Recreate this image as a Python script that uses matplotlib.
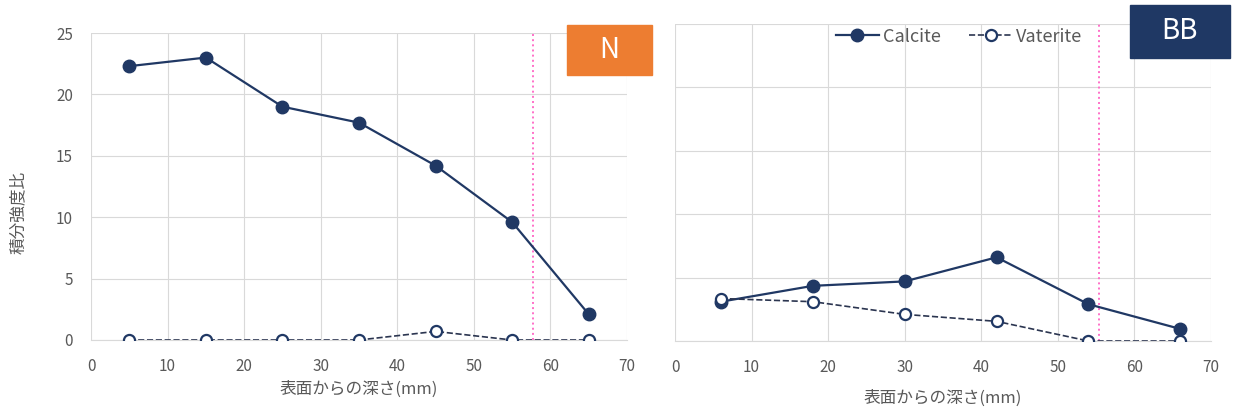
import matplotlib
matplotlib.use("Agg")
import matplotlib.pyplot as plt
from matplotlib.patches import Rectangle

plt.rcParams["font.family"] = ["Noto Sans CJK JP", "DejaVu Sans"]

# ---- データ ----
depth_n = [5, 15, 25, 35, 45, 55, 65]
calcite_n = [22.3, 23.0, 19.0, 17.7, 14.2, 9.6, 2.1]
vaterite_n = [0.0, 0.0, 0.0, 0.0, 0.7, 0.0, 0.0]
line_n = 57.7

depth_bb = [6, 18, 30, 42, 54, 66]
calcite_bb = [3.1, 4.35, 4.7, 6.6, 2.9, 0.95]
vaterite_bb = [3.35, 3.1, 2.1, 1.55, 0.0, 0.0]
line_bb = 55.4

xticks = [0, 10, 20, 30, 40, 50, 60, 70]
yticks = [0, 5, 10, 15, 20, 25]

NAVY = "#203864"
GRID = "#D9D9D9"
TXT = "#595959"
PINK = "#FF6FC8"

W, H = 1234, 415
fig = plt.figure(figsize=(W / 100, H / 100), dpi=100)

def px_axes(x0, y0, x1, y1):
    return fig.add_axes([x0 / W, 1 - y1 / H, (x1 - x0) / W, (y1 - y0) / H])

axL = px_axes(91, 33, 627, 340)
axR = px_axes(675, 24, 1211, 341)

for ax, x, c, v, vl in [(axL, depth_n, calcite_n, vaterite_n, line_n),
                        (axR, depth_bb, calcite_bb, vaterite_bb, line_bb)]:
    ax.plot(x, c, "-o", color=NAVY, lw=1.6, ms=9, mfc=NAVY, mec=NAVY,
            label="Calcite", zorder=3)
    ax.plot(x, v, "--o", color="#2b3550", lw=1.2, ms=8, mfc="white", mec=NAVY,
            mew=1.6, label="Vaterite", zorder=3)
    ax.axvline(vl, color=PINK, ls=":", lw=1.4, zorder=2)
    ax.set_xlim(0, 70)
    ax.set_ylim(0, 25)
    ax.set_xticks(xticks)
    ax.set_yticks(yticks)
    ax.grid(True, color=GRID, lw=0.8)
    ax.set_axisbelow(True)
    for s in ["top", "right", "left"]:
        ax.spines[s].set_visible(False)
    ax.spines["bottom"].set_color(GRID)
    ax.tick_params(length=0, colors=TXT, labelsize=11, pad=13)

axL.set_xlabel("表面からの深さ(mm)", color=TXT, fontsize=12, labelpad=4)
axR.set_xlabel("表面からの深さ(mm)", color=TXT, fontsize=12, labelpad=10)
axR.tick_params(axis="y", labelleft=False)
fig.text(18 / W, 1 - 212 / H, "積分強度比", color=TXT, fontsize=12,
         rotation=90, ha="center", va="center")

axR.legend(loc="center", bbox_to_anchor=(0.53, 0.96), ncol=2, frameon=False,
           fontsize=13, labelcolor=TXT, handlelength=2.4, columnspacing=1.6,
           handletextpad=0.2)

# ラベル枠
fig.patches.append(Rectangle((567 / W, 1 - 75 / H), 85 / W, 50 / H,
                             transform=fig.transFigure, color="#ED7D31"))
fig.text(609.5 / W, 1 - 50 / H, "N", color="white", fontsize=20,
         ha="center", va="center")
fig.patches.append(Rectangle((1130 / W, 1 - 58 / H), 100 / W, 53 / H,
                             transform=fig.transFigure, color="#1F3864"))
fig.text(1180 / W, 1 - 31 / H, "BB", color="white", fontsize=20,
         ha="center", va="center")

fig.savefig("out.png", dpi=100)
